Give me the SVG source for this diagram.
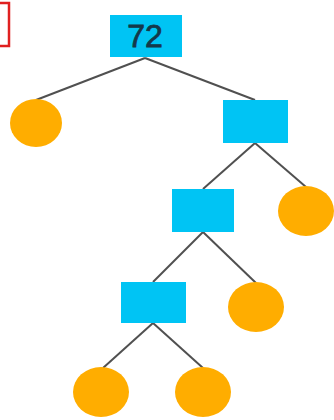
<svg xmlns="http://www.w3.org/2000/svg" width="334" height="420" viewBox="0 0 334 420">
<style>
.box{fill:#00c4f4}
.leaf{fill:#ffad00}
.edge{stroke:#505050;stroke-width:2;fill:none}
.lbl{font-family:"Liberation Sans",Arial,sans-serif;font-size:32px;fill:#14384a;stroke:#14384a;stroke-width:0.8;text-anchor:middle}
</style>
<rect x="-10" y="3" width="19" height="43" fill="none" stroke="#e02020" stroke-width="2.5"/>
<g id="edges">
<line class="edge" x1="145" y1="58" x2="36" y2="100"/>
<line class="edge" x1="145" y1="58" x2="255" y2="100"/>
<line class="edge" x1="255" y1="143" x2="203" y2="189"/>
<line class="edge" x1="255" y1="143" x2="306" y2="187"/>
<line class="edge" x1="203" y1="232" x2="153" y2="282"/>
<line class="edge" x1="203" y1="232" x2="256" y2="283"/>
<line class="edge" x1="153" y1="323" x2="103" y2="368"/>
<line class="edge" x1="153" y1="323" x2="203" y2="368"/>
</g>
<g id="root"><rect class="box" x="110" y="15" width="72" height="42"/><text class="lbl" x="145" y="47">72</text></g>
<g id="leaf1"><ellipse class="leaf" cx="36" cy="123" rx="26" ry="24"/></g>
<g id="n2"><rect class="box" x="223" y="100" width="65" height="43"/></g>
<g id="n3"><rect class="box" x="172" y="189" width="62" height="43"/></g>
<g id="leaf2"><ellipse class="leaf" cx="306" cy="211" rx="28" ry="25"/></g>
<g id="n4"><rect class="box" x="121" y="282" width="65" height="41"/></g>
<g id="leaf3"><ellipse class="leaf" cx="256" cy="307" rx="28" ry="25"/></g>
<g id="leaf4"><ellipse class="leaf" cx="101" cy="392" rx="28" ry="25"/></g>
<g id="leaf5"><ellipse class="leaf" cx="203" cy="392" rx="28" ry="25"/></g>
</svg>
